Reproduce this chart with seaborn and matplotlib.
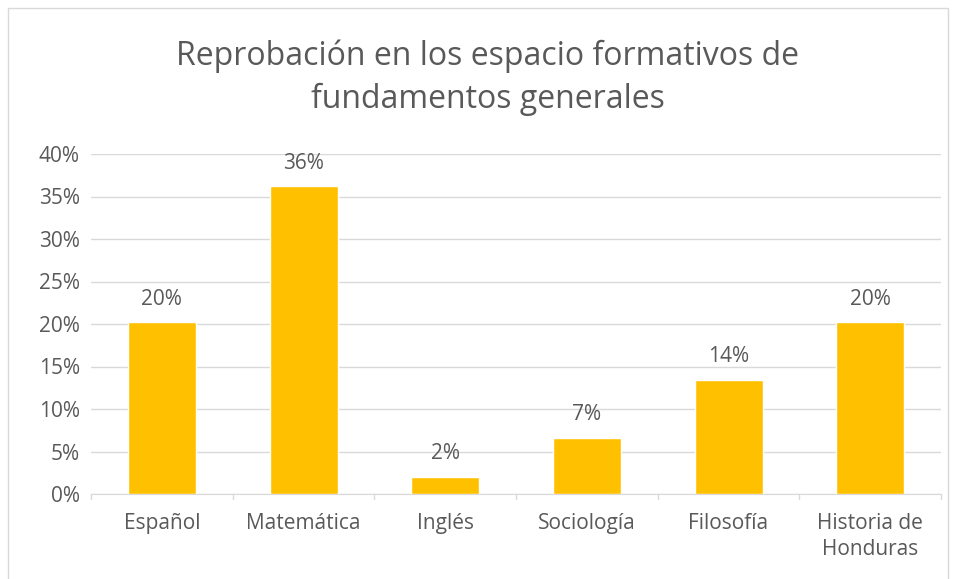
import matplotlib
matplotlib.use("Agg")
import matplotlib.pyplot as plt
import seaborn as sns
import pandas as pd
from matplotlib.patches import Rectangle
from matplotlib.ticker import PercentFormatter

# Datos
materias = ["Español", "Matemática", "Inglés", "Sociología", "Filosofía", "Historia de\nHonduras"]
reprobacion = [0.202, 0.362, 0.020, 0.066, 0.134, 0.202]
etiquetas = ["20%", "36%", "2%", "7%", "14%", "20%"]
ticks_y = [0, 0.05, 0.10, 0.15, 0.20, 0.25, 0.30, 0.35, 0.40]

df = pd.DataFrame({"materia": materias, "valor": reprobacion})

sns.set_style("white")
plt.rcParams["font.family"] = ["Open Sans", "DejaVu Sans"]
gris = "#595959"

fig = plt.figure(figsize=(9.56, 5.79), dpi=100)
ax = fig.add_axes([91 / 956, 85 / 579, 850 / 956, 340 / 579])

sns.barplot(data=df, x="materia", y="valor", color="#FFC000", width=0.48,
            saturation=1, ax=ax, zorder=3)

ax.set_ylim(0, 0.4)
ax.set_yticks(ticks_y)
ax.yaxis.set_major_formatter(PercentFormatter(1.0, decimals=0))
ax.grid(axis="y", color="#d9d9d9", linewidth=1, zorder=0)
ax.set_axisbelow(True)
for lado in ["top", "right", "left"]:
    ax.spines[lado].set_visible(False)
ax.spines["bottom"].set_color("#d9d9d9")
ax.set_xlabel("")
ax.set_ylabel("")
ax.tick_params(axis="y", length=0, labelsize=15, labelcolor=gris, pad=8)
ax.tick_params(axis="x", length=0, labelsize=15, labelcolor=gris, pad=14)
for lbl in ax.get_xticklabels():
    lbl.set_linespacing(1.3)

# marcas entre categorías
for i in range(len(materias) + 1):
    ax.plot([i - 0.5, i - 0.5], [0, -0.006], color="#d9d9d9", lw=1,
            clip_on=False, transform=ax.transData)
ax.set_xlim(-0.5, len(materias) - 0.5)

for i, (v, t) in enumerate(zip(reprobacion, etiquetas)):
    ax.text(i, v + 0.015, t, ha="center", va="bottom", fontsize=15, color=gris)

fig.text(488 / 956, 1 - 78 / 579, "Reprobación en los espacio formativos de\nfundamentos generales",
         ha="center", va="center", fontsize=23, color=gris, linespacing=1.4)

fig.patches.append(Rectangle((8 / 956, -0.01), 940 / 956, 1 - 8 / 579 + 0.01,
                             transform=fig.transFigure, fill=False,
                             edgecolor="#d9d9d9", lw=1))

fig.savefig("out.png", dpi=100)
